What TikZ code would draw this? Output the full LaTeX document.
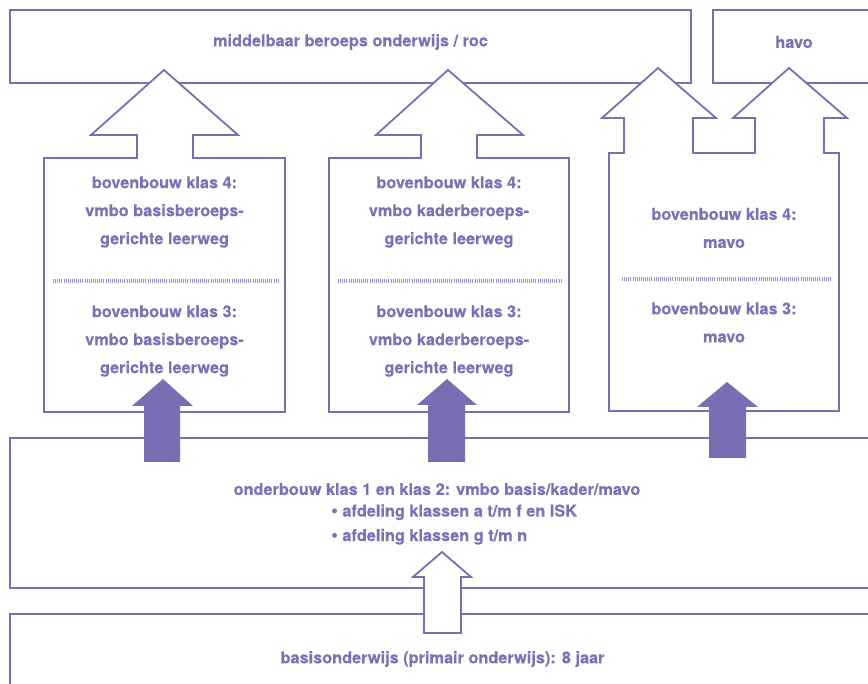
\documentclass[tikz,border=0pt]{standalone}
\usepackage{fontspec}
\setmainfont{TeX Gyre Heros}[FakeBold=0.35]
\definecolor{lav}{HTML}{7B6DB3}
\definecolor{lavtxt}{HTML}{7C70B6}
\definecolor{lavsep}{HTML}{9990CC}
\tikzset{
  outline/.style={draw=lav, line width=1.8pt, fill=white, line join=miter},
  solidarrow/.style={fill=lav, draw=none},
  sep/.style={draw=lavsep, line width=4pt, dash pattern=on 0.8pt off 1.3pt},
  lbl/.style={text=lavtxt, font=\bfseries\fontsize{16.3}{28}\selectfont, align=center, inner sep=0pt},
}
\begin{document}
\begin{tikzpicture}[x=1pt, y=-1pt]
\useasboundingbox (0,0) rectangle (868,684);
\clip (0,0) rectangle (868,684);
% top boxes
\draw[outline] (10,10) rectangle (691,83);
\draw[outline] (713,10) rectangle (900,83);
% onderbouw & basis
\draw[outline] (10,438) rectangle (900,588);
\draw[outline] (10,614) rectangle (900,720);
% left column with hollow arrow
\draw[outline] (44,412) -- (44,158) -- (137,158) -- (137,135) -- (91,135) -- (164,70)
  -- (238,135) -- (193,135) -- (193,158) -- (285,158) -- (285,412) -- cycle;
% middle column
\draw[outline] (329,412) -- (329,158) -- (421,158) -- (421,135) -- (376,135) -- (448,70)
  -- (523,135) -- (477,135) -- (477,158) -- (569,158) -- (569,412) -- cycle;
% right column with double arrow
\draw[outline] (609,411) -- (609,153) -- (624,153) -- (624,118) -- (602,118) -- (658,68)
  -- (716,118) -- (693,118) -- (693,153) -- (755,153) -- (755,118) -- (733,118)
  -- (789,68) -- (847,118) -- (824,118) -- (824,153) -- (839,153) -- (839,411) -- cycle;
% separators
\draw[sep] (53,281) -- (278,281);
\draw[sep] (338,281) -- (562,281);
\draw[sep] (622,279) -- (831,279);
% filled arrows
\fill[solidarrow] (144,462) -- (144,406) -- (132,406) -- (163,379) -- (193,406) -- (180,406) -- (180,462) -- cycle;
\fill[solidarrow] (428,462) -- (428,405) -- (417,405) -- (447,379) -- (477,405) -- (465,405) -- (465,462) -- cycle;
\fill[solidarrow] (709,458) -- (709,407) -- (697,407) -- (727,382) -- (758,407) -- (746,407) -- (746,458) -- cycle;
% bottom hollow arrow
\draw[outline] (424,633) -- (424,577) -- (413,577) -- (442,552) -- (471,577) -- (461,577) -- (461,633) -- cycle;
% texts
\node[lbl] (mbo) at (350.5,42) {middelbaar beroeps onderwijs / roc};
\node[lbl] (havo) at (794,42) {havo};
\node[lbl] (l4) at (164.5,212) {bovenbouw klas 4:\\vmbo basisberoeps-\\gerichte leerweg};
\node[lbl] (l3) at (164.5,341) {bovenbouw klas 3:\\vmbo basisberoeps-\\gerichte leerweg};
\node[lbl] (m4) at (449,212) {bovenbouw klas 4:\\vmbo kaderberoeps-\\gerichte leerweg};
\node[lbl] (m3) at (449,341) {bovenbouw klas 3:\\vmbo kaderberoeps-\\gerichte leerweg};
\node[lbl] (r4) at (724,228) {bovenbouw klas 4:\\mavo};
\node[lbl] (r3) at (724,322.5) {bovenbouw klas 3:\\mavo};
\node[lbl] (ob) at (437,489) {onderbouw klas 1 en klas 2: vmbo basis/kader/mavo};
\node[lbl, anchor=west, font=\bfseries\fontsize{16.3}{24.5}\selectfont, align=left] (obl) at (331,524.5) {{\fontsize{19}{24.5}\selectfont •}\ afdeling klassen a t/m f en ISK\\{\fontsize{19}{24.5}\selectfont •}\ afdeling klassen g t/m n};
\node[lbl] (bas) at (442.5,659) {basisonderwijs (primair onderwijs): 8 jaar};
\end{tikzpicture}
\end{document}
